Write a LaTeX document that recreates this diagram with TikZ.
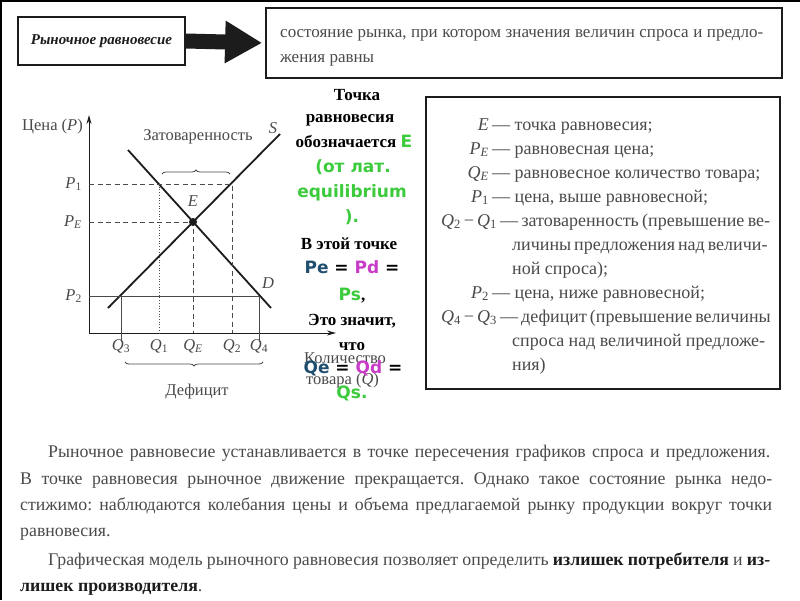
\documentclass[tikz,border=0pt]{standalone}
\usepackage{fontspec}
\setmainfont{Liberation Serif}
\newfontfamily\vsans{DejaVu Sans}
\usetikzlibrary{arrows.meta,calc,positioning,decorations.pathreplacing}

\definecolor{scangray}{HTML}{4A4A4A}
\definecolor{inkdark}{HTML}{1C1C1C}
\definecolor{eqgreen}{HTML}{3CCB3C}
\definecolor{eqpink}{HTML}{C83CC8}
\definecolor{eqblue}{HTML}{1F4E6E}

\newcommand{\gtxt}[1]{{\vsans\bfseries\color{eqgreen}#1}}
\newcommand{\ptxt}[1]{{\vsans\bfseries\color{eqpink}#1}}
\newcommand{\btxt}[1]{{\vsans\bfseries\color{eqblue}#1}}
\newcommand{\eqs}{{\vsans\bfseries\ =\ }}
\newcommand{\sym}[2]{\textit{#1}\textsubscript{#2}}

\tikzset{
  framebox/.style={draw=inkdark, line width=1.8pt},
  boxtext/.style={text=scangray, inner sep=0pt, anchor=base west, font=\frenchspacing\fontsize{18}{20}\selectfont},
  deftext/.style={text=scangray, inner sep=0pt, anchor=base west, font=\frenchspacing\fontsize{17}{20}\selectfont},
  bodytext/.style={text=scangray, inner sep=0pt, anchor=base west, font=\frenchspacing\fontsize{17.8}{22}\selectfont},
  graphlbl/.style={text=scangray, inner sep=1pt, font=\fontsize{16.5}{18}\selectfont},
  notetext/.style={inner sep=0pt, anchor=base, font=\bfseries\fontsize{17}{18}\selectfont},
  curve/.style={inkdark, line width=1.8pt},
  guide/.style={scangray, line width=0.8pt, dash pattern=on 5pt off 3.5pt},
}

\begin{document}
\begin{tikzpicture}[x=1pt,y=-1pt,>=Stealth]
    \useasboundingbox (0,0) rectangle (800,600);
    \fill[white] (0,0) rectangle (800,600);
    \draw[black, line width=3pt] (0,600) -- (0,0) -- (800,0);

    % definition at the top
    \node[framebox, minimum width=167pt, minimum height=48pt, inner sep=0pt,
          font=\bfseries\itshape\fontsize{15}{18}\selectfont, text=inkdark]
          (lbox) at (101.5,41) {Рыночное равновесие};
    \node[framebox, minimum width=516pt, minimum height=70pt] (rbox) at (524,43) {};
    \draw[inkdark, line width=15pt, -{Triangle[length=37pt,width=40pt]}, shorten >=3pt]
          (lbox.east) -- (rbox.west);
    \node[deftext] (def1) at (280,37)
          {\makebox[483pt][s]{состояние рынка, при котором значения величин спроса и предло-}};
    \node[deftext] (def2) at (280,62) {жения равны};

    % axes
    \coordinate (O) at (89,333);
    \coordinate (Ptop) at (89,115);
    \coordinate (Qend) at (336,333);
    \draw[inkdark, line width=1pt, {Stealth[length=9pt,width=5pt]}-{Stealth[length=9pt,width=5pt]}]
          (Ptop) -- (O) -- (Qend);
    \node[graphlbl, anchor=east] (plbl) at (84,127) {Цена (\textit{P})};
    \node[graphlbl, anchor=west] (qlbl1) at (303,358) {Количество};
    \node[graphlbl, anchor=west] (qlbl2) at (305,381) {товара (\textit{Q})};

    % supply and demand
    \coordinate (S0) at (108,308);
    \coordinate (S1) at (280,134);
    \coordinate (D0) at (128,150);
    \coordinate (D1) at (271,308);
    \draw[curve] (S0) -- (S1);
    \draw[curve] (D0) -- (D1);
    \node[graphlbl] (slbl) at (273,128) {\textit{S}};
    \node[graphlbl] (dlbl) at (268,283) {\textit{D}};

    % price levels
    \coordinate (P1q1) at (159,184);
    \coordinate (P1q2) at (232,184);
    \coordinate (P2q3) at (121,296);
    \coordinate (P2q4) at (259,296);
    \draw[guide] (O |- P1q2) -- (P1q2) -- (P1q2 |- O);
    \draw[scangray, line width=0.7pt, dotted] (P1q1) -- (P1q1 |- O);
    \draw[guide] (O |- 0,222) -- (193,222) -- (193,333);
    \draw[scangray, line width=1pt] (O |- P2q4) -- (P2q4) -- ++(0,46);
    \draw[scangray, line width=1pt] (P2q3) -- ++(0,46);
    \node[circle, fill=inkdark, inner sep=0pt, minimum size=8pt] (E) at (193,222) {};
    \node[graphlbl] (elbl) at (193,201) {\textit{E}};

    \node[graphlbl, left=6pt] (p1lbl) at (O |- P1q2) {\sym{P}{1}};
    \node[graphlbl, left=6pt] (pelbl) at (O |- E) {\sym{P}{\textit{E}}};
    \node[graphlbl, left=6pt] (p2lbl) at (O |- P2q4) {\sym{P}{2}};
    \node[graphlbl, below=5pt] (q3lbl) at (P2q3 |- O) {\sym{Q}{3}};
    \node[graphlbl, below=5pt] (q1lbl) at (P1q1 |- O) {\sym{Q}{1}};
    \node[graphlbl, below=5pt] (qelbl) at (E |- O) {\sym{Q}{\textit{E}}};
    \node[graphlbl, below=5pt] (q2lbl) at (P1q2 |- O) {\sym{Q}{2}};
    \node[graphlbl, below=5pt] (q4lbl) at (P2q4 |- O) {\sym{Q}{4}};

    % surplus and shortage
    \draw[scangray, line width=0.8pt, decorate, decoration={brace, amplitude=4pt}]
          (162,174) -- (230,174);
    \node[graphlbl] (surplus) at (198,137) {Затоваренность};
    \draw[scangray, line width=0.8pt, decorate, decoration={brace, amplitude=4pt, mirror}]
          (125,362) -- (263,362);
    \node[graphlbl] (deficit) at (197,392) {Дефицит};

    % legend
    \node[framebox, minimum width=354pt, minimum height=292pt] (legend) at (603,243) {};
    \node[boxtext, anchor=base east] (l1s) at (489,130) {\textit{E}};
    \node[boxtext] (l1t) at (492,130) {— точка равновесия;};
    \node[boxtext, anchor=base east] (l2s) at (489,154) {\sym{P}{\textit{E}}};
    \node[boxtext] (l2t) at (492,154) {— равновесная цена;};
    \node[boxtext, anchor=base east] (l3s) at (489,178) {\sym{Q}{\textit{E}}};
    \node[boxtext] (l3t) at (492,178) {— равновесное количество товара;};
    \node[boxtext, anchor=base east] (l4s) at (489,202) {\sym{P}{1}};
    \node[boxtext] (l4t) at (492,202) {— цена, выше равновесной;};
    \node[boxtext, anchor=base east] (l5s) at (497,226) {\sym{Q}{2}\,−\,\sym{Q}{1}};
    \node[boxtext] (l5t) at (500,226) {\makebox[270pt][s]{— затоваренность (превышение ве-}};
    \node[boxtext] (l6t) at (512,250) {\makebox[250pt][s]{личины предложения над величи-}};
    \node[boxtext] (l7t) at (512,274) {ной спроса);};
    \node[boxtext, anchor=base east] (l8s) at (489,298) {\sym{P}{2}};
    \node[boxtext] (l8t) at (492,298) {— цена, ниже равновесной;};
    \node[boxtext, anchor=base east] (l9s) at (497,322) {\sym{Q}{4}\,−\,\sym{Q}{3}};
    \node[boxtext] (l9t) at (500,322) {\makebox[270pt][s]{— дефицит (превышение величины}};
    \node[boxtext] (l10t) at (512,346) {\makebox[253pt][s]{спроса над величиной предложе-}};
    \node[boxtext] (l11t) at (512,370) {ния)};

    % note in the middle
    \node[notetext] (n1) at (357,100) {Точка};
    \node[notetext] (n2) at (350,122) {равновесия};
    \node[notetext] (n3) at (354,147) {обозначается \gtxt{E}};
    \node[notetext] (n4) at (353,172) {\gtxt{(от лат.}};
    \node[notetext] (n5) at (352,197) {\gtxt{equilibrium}};
    \node[notetext] (n6) at (352,222) {\gtxt{).}};
    \node[notetext] (n7) at (349,249) {В этой точке};
    \node[notetext] (n8) at (352,273) {\btxt{Pe}\eqs\ptxt{Pd}\eqs};
    \node[notetext] (n9) at (352,300) {\gtxt{Ps},};
    \node[notetext] (n10) at (352,325) {Это значит,};
    \node[notetext] (n11) at (352,350) {что};
    \node[notetext] (n12) at (353,373) {\btxt{Qe}\eqs\ptxt{Qd}\eqs};
    \node[notetext] (n13) at (352,398) {\gtxt{Qs.}};

    % text below
    \node[bodytext] (b1) at (48,457)
          {\makebox[722pt][s]{Рыночное равновесие устанавливается в точке пересечения графиков спроса и предложения.}};
    \node[bodytext] (b2) at (20,484)
          {\makebox[752pt][s]{В точке равновесия рыночное движение прекращается. Однако такое состояние рынка недо-}};
    \node[bodytext] (b3) at (20,510)
          {\makebox[752pt][s]{стижимо: наблюдаются колебания цены и объема предлагаемой рынку продукции вокруг точки}};
    \node[bodytext] (b4) at (20,536) {равновесия.};
    \node[bodytext] (b5) at (48,565)
          {\makebox[722pt][s]{Графическая модель рыночного равновесия позволяет определить {\bfseries\color{inkdark}излишек потребителя} и {\bfseries\color{inkdark}из-}}};
    \node[bodytext] (b6) at (20,591) {{\bfseries\color{inkdark}лишек производителя}.};
\end{tikzpicture}
\end{document}
